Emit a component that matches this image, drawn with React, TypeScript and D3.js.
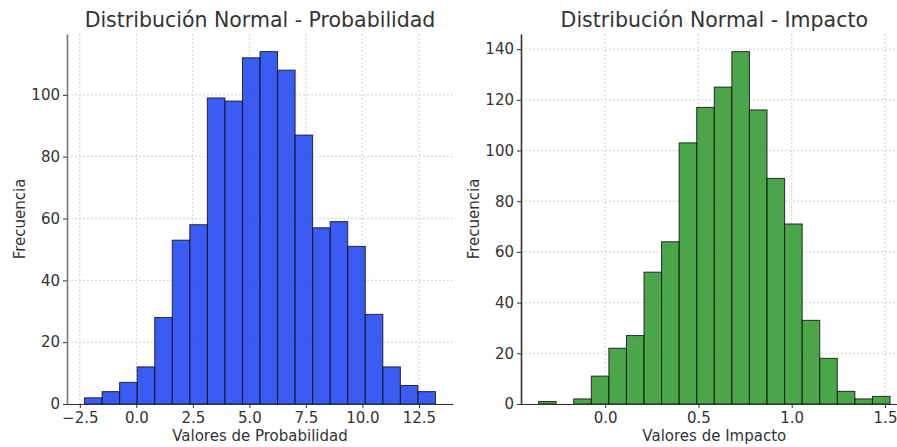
import React, { useEffect, useRef } from "react";
import * as d3 from "d3";

// bin counts (20 bins each)
const probCounts = [2, 4, 7, 12, 28, 53, 58, 99, 98, 112, 114, 108, 87, 57, 59, 51, 29, 12, 6, 4];
const probRange = [-2.29, 13.23];
const probXTicks = [-2.5, 0, 2.5, 5, 7.5, 10, 12.5];
const probYTicks = [0, 20, 40, 60, 80, 100];

const impCounts = [1, 0, 2, 11, 22, 27, 52, 64, 103, 117, 125, 139, 116, 89, 71, 33, 18, 5, 2, 3];
const impRange = [-0.357, 1.527];
const impXTicks = [0, 0.5, 1, 1.5];
const impYTicks = [0, 20, 40, 60, 80, 100, 120, 140];

const FONT = "DejaVu Sans, sans-serif";

const App = () => {
  const ref = useRef(null);

  useEffect(() => {
    const svg = d3.select(ref.current);
    svg.selectAll("*").remove();

    const top = 34;
    const bottom = 404;

    const drawPanel = (opts) => {
      const { counts, range, xTicks, yTicks, left, right, fill, title, xLabel, spine } = opts;
      const n = counts.length;
      const w = (range[1] - range[0]) / n;
      const bins = counts.map((c, i) => ({ x0: range[0] + i * w, x1: range[0] + (i + 1) * w, c }));
      const pad = (range[1] - range[0]) * 0.05;

      const x = d3.scaleLinear().domain([range[0] - pad, range[1] + pad]).range([left, right]);
      const y = d3.scaleLinear().domain([0, d3.max(counts) * 1.05]).range([bottom, top]);

      const g = svg.append("g");

      // grid
      g.append("g")
        .selectAll("line")
        .data(xTicks)
        .join("line")
        .attr("x1", (d) => x(d))
        .attr("x2", (d) => x(d))
        .attr("y1", top)
        .attr("y2", bottom)
        .attr("stroke", "#c8c8c8")
        .attr("stroke-width", 0.8)
        .attr("stroke-dasharray", "2,2");
      g.append("g")
        .selectAll("line")
        .data(yTicks)
        .join("line")
        .attr("x1", left)
        .attr("x2", right)
        .attr("y1", (d) => y(d))
        .attr("y2", (d) => y(d))
        .attr("stroke", "#c8c8c8")
        .attr("stroke-width", 0.8)
        .attr("stroke-dasharray", "2,2");

      // bars
      g.append("g")
        .selectAll("rect")
        .data(bins.filter((b) => b.c > 0))
        .join("rect")
        .attr("x", (d) => x(d.x0))
        .attr("width", (d) => x(d.x1) - x(d.x0))
        .attr("y", (d) => y(d.c))
        .attr("height", (d) => y(0) - y(d.c))
        .attr("fill", fill)
        .attr("fill-opacity", 0.85)
        .attr("stroke", "#111")
        .attr("stroke-opacity", 0.85)
        .attr("stroke-width", 1);

      // axes
      const xAxis = g.append("g")
        .attr("transform", `translate(0,${bottom})`)
        .call(d3.axisBottom(x).tickValues(xTicks).tickFormat(d3.format(".1f")).tickSize(4).tickSizeOuter(0));
      const yAxis = g.append("g")
        .attr("transform", `translate(${left},0)`)
        .call(d3.axisLeft(y).tickValues(yTicks).tickSize(4).tickSizeOuter(0));

      [xAxis, yAxis].forEach((a) => {
        a.select(".domain").attr("stroke", "#333").attr("stroke-width", 1.2);
        a.selectAll(".tick line").attr("stroke", "#333");
        a.selectAll(".tick text")
          .attr("fill", "#333")
          .attr("font-family", FONT)
          .attr("font-size", 15);
      });
      yAxis.select(".domain").attr("stroke", spine).attr("stroke-width", 1.6);
      xAxis.selectAll(".tick text").text((d) => d3.format(".1f")(d).replace("-", "\u2212")).attr("dy", "0.8em");

      g.append("text")
        .attr("x", (left + right) / 2)
        .attr("y", 27)
        .attr("text-anchor", "middle")
        .attr("font-family", FONT)
        .attr("font-size", 20.5)
        .attr("fill", "#333")
        .text(title);

      g.append("text")
        .attr("x", (left + right) / 2)
        .attr("y", 441)
        .attr("text-anchor", "middle")
        .attr("font-family", FONT)
        .attr("font-size", 15)
        .attr("fill", "#333")
        .text(xLabel);

      g.append("text")
        .attr("transform", `translate(${left - 42},${(top + bottom) / 2}) rotate(-90)`)
        .attr("text-anchor", "middle")
        .attr("font-family", FONT)
        .attr("font-size", 15)
        .attr("fill", "#333")
        .text("Frecuencia");
    };

    drawPanel({
      counts: probCounts,
      range: probRange,
      xTicks: probXTicks,
      yTicks: probYTicks,
      left: 67,
      right: 453,
      fill: "#173ff0",
      title: "Distribución Normal - Probabilidad",
      xLabel: "Valores de Probabilidad",
      spine: "#777",
    });

    drawPanel({
      counts: impCounts,
      range: impRange,
      xTicks: impXTicks,
      yTicks: impYTicks,
      left: 521,
      right: 907.6,
      fill: "#2c962c",
      title: "Distribución Normal - Impacto",
      xLabel: "Valores de Impacto",
      spine: "#333",
    });
  }, []);

  return (
    <svg
      ref={ref}
      width={897}
      height={447}
      style={{ position: "absolute", left: 0, top: 0, background: "#fff" }}
    ></svg>
  );
};

export default App;
